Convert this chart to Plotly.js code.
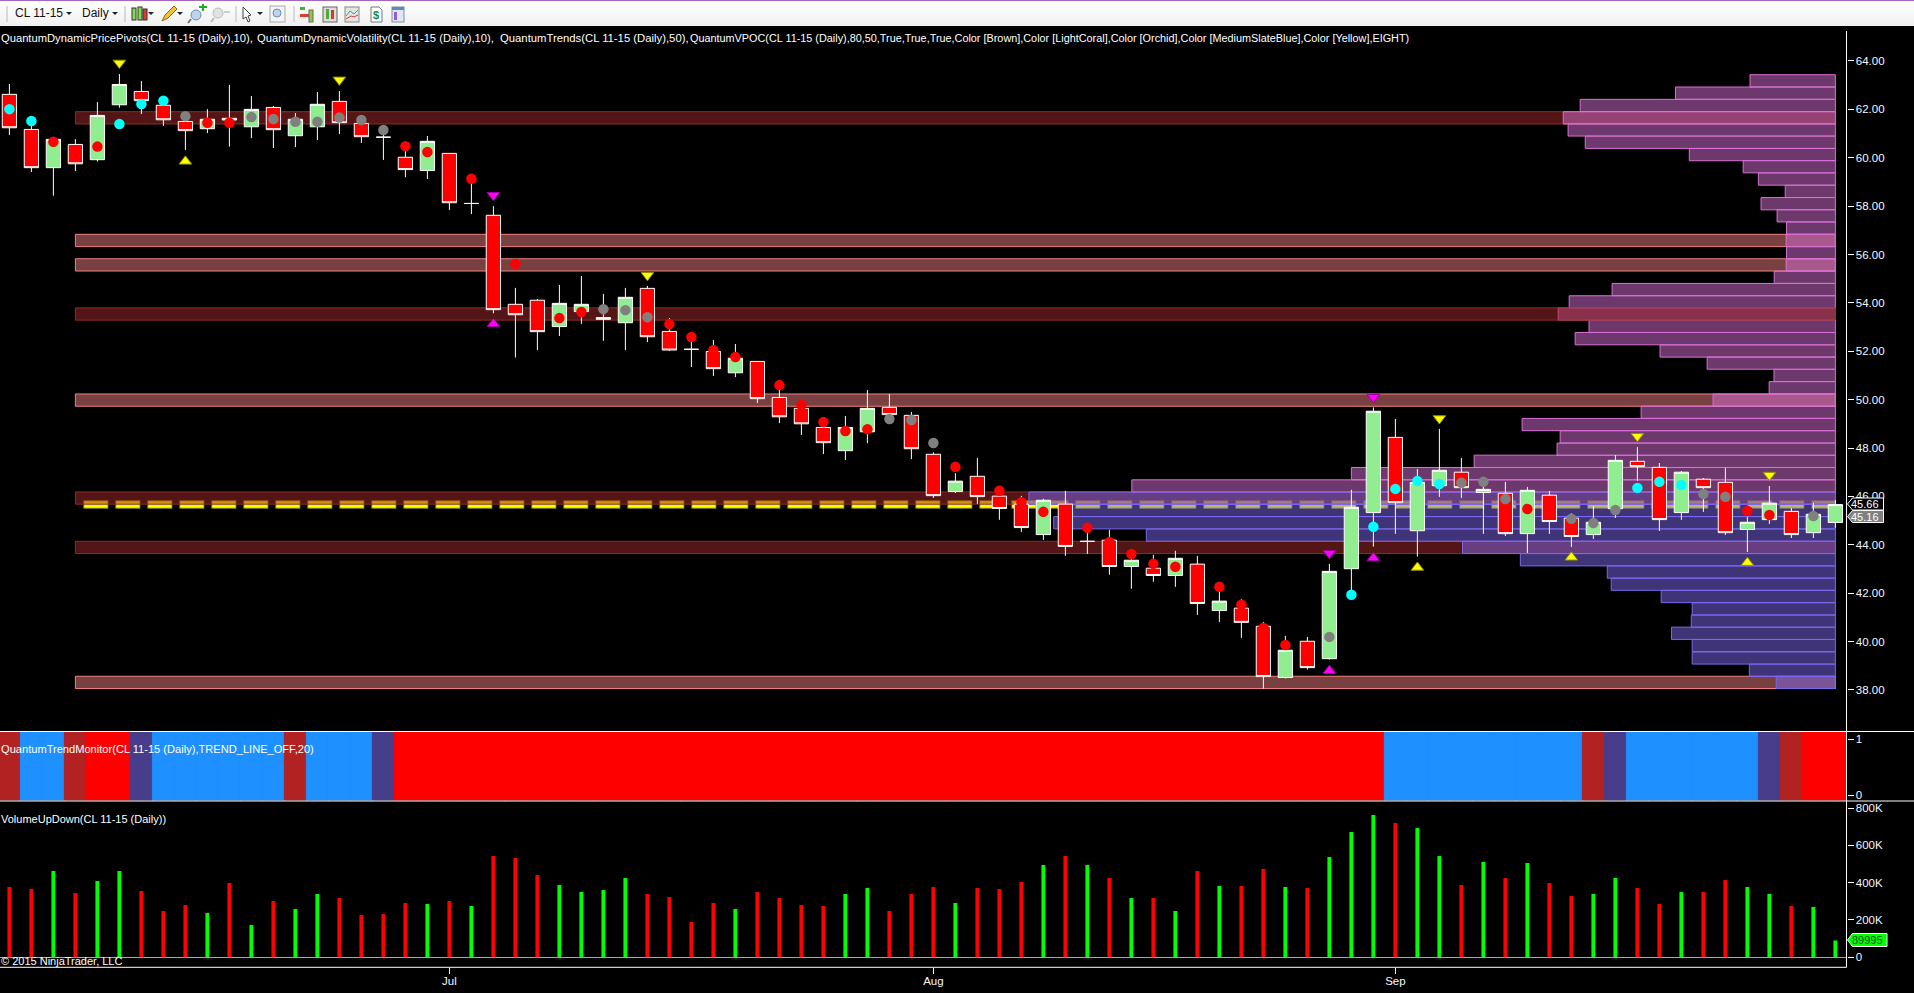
<!DOCTYPE html>
<html><head><meta charset="utf-8">
<script src="https://cdn.plot.ly/plotly-3.0.1.min.js"></script>
<style>
html,body{margin:0;padding:0;background:#000;overflow:hidden;width:1914px;height:993px}
#chart{position:absolute;left:0;top:0;width:1914px;height:993px}
#bar{position:absolute;left:0;top:0;width:1914px;height:26px;background:linear-gradient(#ffffff,#f0f0f0);border-top:1px solid #a865c0;box-sizing:border-box;font:12px "Liberation Sans",sans-serif;color:#111}
#bar span{position:absolute;top:5px}
#bar svg{position:absolute;left:0;top:0}
</style></head><body>
<div id="chart"></div>
<div id="bar">
<span style="left:15px">CL 11-15</span><span style="left:82px">Daily</span>
<svg width="420" height="26">
<g fill="#222"><path d="M66 11h6l-3 3z"/><path d="M112 11h6l-3 3z"/><path d="M148 11h6l-3 3z"/><path d="M177 11h6l-3 3z"/><path d="M257 11h6l-3 3z"/></g>
<g stroke="#bbb"><path d="M7 5v16M125 5v16M236 5v16M294 5v16"/></g>
<g stroke="#333"><rect x="132" y="7" width="4" height="12" fill="#7ee04a"/><rect x="138" y="6" width="4" height="13" fill="#7ee04a"/><rect x="143" y="8" width="4" height="11" fill="#e03a2a"/></g>
<path d="M162 20l3-6 9-9 3 3-9 9z" fill="#f2c230" stroke="#8a6a10"/>
<circle cx="196" cy="14" r="5" fill="#bcd4ee" stroke="#6f8fb0"/><path d="M191 18l-3 4" stroke="#777" stroke-width="2"/><path d="M201 4h3v-2h2v2h3v2h-3v3h-2v-3h-3z" transform="translate(-2,1)" fill="#22aa22"/>
<circle cx="218" cy="12" r="5" fill="#e2e2e2" stroke="#bbb"/><path d="M214 17l-3 4" stroke="#bbb" stroke-width="2"/><path d="M224 10h6v2h-6z" fill="#ccc"/>
<path d="M243 6l8 8-3 1 2 5-2 1-2-5-3 2z" fill="#fff" stroke="#444"/>
<rect x="270" y="5" width="15" height="16" fill="#f4f4f4" stroke="#aaa"/><circle cx="277" cy="12" r="4" fill="#bcd4ee" stroke="#6f8fb0"/>
<g><rect x="300" y="6" width="5" height="3" fill="#3faf3f"/><rect x="300" y="13" width="9" height="3" fill="#e03a2a"/><rect x="309" y="9" width="4" height="12" fill="#8cc84b" stroke="#666"/></g>
<rect x="323" y="6" width="14" height="15" fill="#ddd" stroke="#666"/><rect x="326" y="8" width="3" height="10" fill="#4caf33"/><rect x="331" y="9" width="3" height="9" fill="#d6392a"/>
<rect x="345" y="6" width="14" height="15" fill="#e4e4e4" stroke="#888"/><path d="M346 15l4-5 4 3 4-4" stroke="#3caa55" fill="none"/><path d="M346 18l5-3 3 1 4-2" stroke="#d04040" fill="none"/>
<path d="M371 6h8l3 3v12h-11z" fill="#fff" stroke="#777"/><text x="373" y="18" font-size="11" font-weight="bold" fill="#1a8a3a">$</text>
<rect x="392" y="6" width="12" height="15" fill="#dfe8f2" stroke="#7a8fa6"/><rect x="392" y="6" width="12" height="3" fill="#5a8cc0"/><rect x="394" y="11" width="3" height="8" fill="#9a5bd0"/>
</svg></div>
<script>
// ---------- daily candles (USD per barrel) ----------
const barIndex = Array.from({length:84},(_, i)=>i);
const priceOpen  = [62.62,61.17,59.59,60.55,59.92,62.19,62.74,62.17,61.50,61.20,61.63,61.28,62.08,60.91,61.28,62.33,61.42,60.85,60.02,59.47,60.18,58.11,57.62,53.94,54.11,53.02,53.64,53.32,53.18,54.60,52.82,52.08,51.99,51.11,51.58,50.09,49.64,48.85,47.89,48.67,49.68,49.35,47.74,46.20,46.83,46.01,45.68,44.42,45.68,44.14,44.19,43.10,43.03,42.73,43.20,41.28,41.38,40.63,38.51,40.01,39.29,43.01,45.33,48.44,44.58,46.44,47.00,46.16,46.13,44.46,46.05,45.10,44.42,45.49,47.45,47.20,45.33,46.71,46.58,44.63,45.04,45.38,44.50,44.92];
const priceHigh  = [63.05,61.35,60.84,60.77,62.30,63.46,63.17,62.39,61.84,62.01,63.01,62.55,62.14,61.85,62.72,62.76,61.70,61.28,60.32,60.90,60.18,59.15,58.00,54.62,54.16,54.74,55.11,54.37,54.62,54.70,53.37,52.53,52.46,52.30,51.58,50.46,49.78,48.95,49.32,50.40,50.23,49.49,47.82,46.96,47.59,46.13,46.02,45.90,46.23,44.62,44.62,43.51,43.58,43.75,43.54,42.07,41.76,40.81,40.23,40.19,43.21,46.27,49.68,49.20,47.13,48.79,47.59,46.79,46.60,46.39,46.22,45.30,45.60,47.71,48.04,47.38,47.05,46.76,47.18,45.16,46.43,45.52,45.73,45.85];
const priceLow   = [60.94,59.41,58.43,59.45,59.84,62.07,61.81,61.31,60.32,61.02,60.46,60.81,60.40,60.44,60.73,60.98,60.61,59.91,59.20,59.12,57.84,57.67,53.57,51.74,52.05,52.63,53.13,52.43,52.05,52.38,52.01,51.35,50.98,50.93,49.86,49.03,48.54,47.75,47.50,48.20,49.29,47.54,45.94,46.14,45.69,45.03,44.53,44.20,43.54,43.62,42.76,42.18,42.47,42.26,41.10,40.81,40.15,38.04,38.47,38.84,39.25,42.13,43.92,44.45,43.51,45.98,45.94,44.45,44.36,43.66,44.45,43.91,44.24,45.11,46.64,44.57,45.03,45.36,44.41,43.70,44.86,44.28,44.28,44.70];
const priceClose = [61.24,59.59,60.76,59.75,61.75,63.03,62.36,61.57,61.12,61.59,61.56,62.00,61.16,61.59,62.21,61.45,60.87,60.85,59.51,60.68,58.14,58.11,53.72,53.51,52.81,53.98,53.94,53.39,54.23,52.60,52.05,52.08,51.28,51.71,50.04,49.29,49.00,48.22,48.85,49.64,49.38,47.97,46.03,46.63,45.99,45.50,44.71,45.84,43.93,44.14,43.10,43.36,42.73,43.44,41.57,41.67,40.79,38.55,39.64,38.92,42.90,45.55,49.52,45.74,46.58,47.08,46.36,46.29,44.46,46.25,44.96,44.34,44.93,47.49,47.23,45.04,47.00,46.36,44.50,44.93,45.72,44.42,45.26,45.66];

// ---------- volatility dots: price and kind (r red, c cyan, g gray, - none) per bar ----------
const dotPrice = [62.01,61.52,60.66,null,60.46,61.39,62.22,62.36,61.72,61.45,61.45,61.68,61.60,61.49,61.49,61.66,61.56,61.15,60.48,60.24,null,59.13,null,55.61,null,53.37,53.62,53.74,53.70,53.41,53.12,52.59,52.05,51.76,null,50.60,49.78,49.07,48.70,48.78,49.20,49.16,48.21,47.22,null,46.23,45.76,45.36,null,44.70,44.11,43.62,43.21,43.09,null,42.26,41.52,40.56,39.86,null,40.19,41.93,44.74,46.31,46.64,46.51,46.56,46.60,45.89,45.48,null,45.07,44.90,45.44,46.35,46.60,46.47,46.10,45.98,45.40,45.23,null,45.19,null];
const dotKind  = "ccr-rcccgr"+"rgggggggrr"+"-r-r-rrggg"+"rrrr-rrrrr"+"gggr-rrr-r"+"rrrr-rrrr-"+"gcccccgggr"+"-gggcccggr"+"r-g-";

// ---------- pivot triangles ----------
const yellowDownX = [5,15,29,65,74,80],  yellowDownY = [63.92,63.22,55.14,49.22,48.49,46.88];
const yellowUpX   = [8,64,71,79],        yellowUpY   = [59.85,43.06,43.48,43.26];
const magentaDownX= [22,60,62],          magentaDownY= [58.45,43.65,50.10];
const magentaUpX  = [22,60,62],          magentaUpY  = [53.13,38.79,43.45];

// ---------- volume profile: row centre price and depth (in bar widths from the right edge) ----------
const profilePrice = [63.18,62.67,62.16,61.65,61.15,60.64,60.13,59.63,59.12,58.61,58.10,57.60,57.09,56.58,56.07,55.57,55.06,54.55,54.04,53.54,53.03,52.52,52.01,51.51,51.00,50.49,49.98,49.48,48.97,48.46,47.95,47.45,46.94,46.43,45.93,45.42,44.91,44.40,43.89,43.38,42.87,42.37,41.86,41.35,40.84,40.34,39.83,39.32,38.81,38.31];
const profileDepth = [3.88,7.27,11.60,12.37,12.15,11.37,6.64,4.19,3.50,2.28,3.38,2.65,2.22,2.24,2.22,2.24,2.78,10.15,12.10,12.60,11.20,11.83,7.97,5.83,2.79,3.01,5.56,8.83,14.24,12.51,12.65,16.42,22.00,31.98,36.66,35.07,35.53,31.32,16.95,14.32,10.37,10.19,7.92,6.51,6.55,7.45,6.51,6.51,3.91,2.69];
const profileRowHeight = 0.507;
const profileUpperRows = 34;           // rows above this index are Orchid, the rest MediumSlateBlue
const profileRightIndex = 83;

// ---------- support / resistance zones ----------
const brownZones = [61.65,43.89,45.93];
const brownZoneOnTop = [53.54];
const coralZones = [56.58,55.57,49.98,38.31];
const zoneStartIndex = 3, zoneLength = 80;

// ---------- VPOC line ----------
const vpocPrice = 45.66, vpocStart = 3.36, vpocEnd = 83;

// ---------- trend monitor state per bar: F firebrick, B dodgerblue, R red, S slateblue ----------
const trendState = ("FBBFRRSBBBBBBFBBBS"+"RRRRRRRRRRRRRRRRRRRRRRRRRRRRRRRRRRRRRRRRRRRRR"+"BBBBBBBBB"+"FS"+"BBBBBB"+"SFRR").split("");

// ---------- volume ----------
const volume = [377000,366000,463000,345000,409000,463000,355000,248000,280000,238000,398000,173000,302000,259000,339000,318000,227000,232000,291000,286000,302000,275000,543000,532000,441000,388000,350000,361000,425000,339000,323000,189000,291000,259000,350000,318000,280000,275000,339000,371000,248000,339000,377000,291000,371000,366000,404000,495000,543000,495000,425000,318000,318000,248000,463000,382000,382000,473000,377000,371000,538000,672000,763000,720000,693000,543000,388000,511000,425000,505000,398000,329000,339000,425000,371000,286000,350000,350000,414000,377000,339000,275000,270000,89995];
const volumeDir = "RRGRGGRRRGRGRGGRRRRGRGRRRGGGG"+"RRRRGRRRRGGRRRGRRRGRGRGRGRGRR"+"GRGGGRGGRGRGRRGGRRGRRGGRGG";

// ---------- tick labels ----------
const priceTicks = [38,40,42,44,46,48,50,52,54,56,58,60,62,64];
const priceTickText = ["38.00","40.00","42.00","44.00","46.00","48.00","50.00","52.00","54.00","56.00","58.00","60.00","62.00","64.00"];
const trendTicks = [0,1];
const volumeTicks = [0,200000,400000,600000,800000];
const volumeTickText = ["0","200K","400K","600K","800K"];
const monthTicks = [20,42,63];
const monthText = ["Jul","Aug","Sep"];

// ---------- texts ----------
const legendPivots = "QuantumDynamicPricePivots(CL 11-15 (Daily),10),";
const legendVolatility = "QuantumDynamicVolatility(CL 11-15 (Daily),10),";
const legendTrends = "QuantumTrends(CL 11-15 (Daily),50),";
const legendVpoc = "QuantumVPOC(CL 11-15 (Daily),80,50,True,True,True,Color [Brown],Color [LightCoral],Color [Orchid],Color [MediumSlateBlue],Color [Yellow],EIGHT)";
const legendTrend = "QuantumTrendMonitor(CL 11-15 (Daily),TREND_LINE_OFF,20)";
const legendVolume = "VolumeUpDown(CL 11-15 (Daily))";
const copyright = "© 2015 NinjaTrader, LLC";

// ---------- page geometry ----------
const W = 1914, H = 993;
const px = v => v / W, py = v => 1 - v / H;
const FONT = '"Liberation Sans", Arial, sans-serif';
const tickColor = "#f2f8ff";

const trendColor = {F:"#b22222",B:"#1e90ff",R:"#ff0000",S:"#483d8b"};
const pick = k => { const x=[],y=[]; dotPrice.forEach((p,i)=>{ if(dotKind[i]===k){x.push(i);y.push(p);} }); return {x,y}; };
const dot = (k,c) => { const d=pick(k); return {type:"scatter",mode:"markers",xaxis:"x",yaxis:"y2",x:d.x,y:d.y,marker:{symbol:"circle",size:10.5,color:c,line:{width:0}},hoverinfo:"skip"}; };
const tri = (x,y,sym,c,lc) => ({type:"scatter",mode:"markers",xaxis:"x",yaxis:"y2",x,y,marker:{symbol:sym,size:11,color:c,line:{width:1,color:lc}},hoverinfo:"skip"});
const zone = (rows,fill,line) => ({type:"bar",orientation:"h",xaxis:"x",yaxis:"y2",y:rows,x:rows.map(()=>zoneLength),base:rows.map(()=>zoneStartIndex),width:profileRowHeight,marker:{color:fill,line:{color:line,width:1}},hoverinfo:"skip"});

const upperP = profilePrice.slice(0,profileUpperRows), upperD = profileDepth.slice(0,profileUpperRows);
const lowerP = profilePrice.slice(profileUpperRows), lowerD = profileDepth.slice(profileUpperRows);
const prof = (p,d,fill,line) => ({type:"bar",orientation:"h",xaxis:"x",yaxis:"y2",y:p,x:d,base:d.map(v=>profileRightIndex-v),width:profileRowHeight,marker:{color:fill,line:{color:line,width:1}},hoverinfo:"skip"});
const trendFill = trendState.map(s=>trendColor[s]);

const traces = [
  // VPOC sits underneath the translucent zones
  {type:"scatter",mode:"lines",xaxis:"x",yaxis:"y",x:[vpocStart,vpocEnd],y:[vpocPrice,vpocPrice],line:{color:"#8f8f00",width:8.5,dash:"25px,7px"},hoverinfo:"skip"},
  {type:"scatter",mode:"lines",xaxis:"x",yaxis:"y",x:[vpocStart+0.04,vpocEnd],y:[vpocPrice,vpocPrice],line:{color:"#ffff00",width:6.5,dash:"23.3px,8.7px"},hoverinfo:"skip"},
  zone(brownZones,"rgba(165,42,42,0.5)","#902a2a"),
  zone(coralZones,"rgba(240,128,128,0.5)","#f08080"),
  prof(upperP,upperD,"rgba(218,112,214,0.5)","#da70d6"),
  prof(lowerP,lowerD,"rgba(123,104,238,0.5)","#7b68ee"),
  zone(brownZoneOnTop,"rgba(165,42,42,0.5)","#902a2a"),
  {type:"candlestick",xaxis:"x",yaxis:"y2",x:barIndex,open:priceOpen,high:priceHigh,low:priceLow,close:priceClose,whiskerwidth:0,
   increasing:{line:{color:"#ffffff",width:1},fillcolor:"#90ee90"},decreasing:{line:{color:"#ffffff",width:1},fillcolor:"#ff0000"},hoverinfo:"skip"},
  dot("r","#ff0000"),dot("c","#00ffff"),dot("g","#808080"),
  tri(yellowDownX,yellowDownY,"triangle-down","#ffff00","#8f8f00"),
  tri(yellowUpX,yellowUpY,"triangle-up","#ffff00","#8f8f00"),
  tri(magentaDownX,magentaDownY,"triangle-down","#ff00ff","#a000a0"),
  tri(magentaUpX,magentaUpY,"triangle-up","#ff00ff","#a000a0"),
  {type:"bar",xaxis:"x",yaxis:"y3",x:barIndex,y:barIndex.map(()=>1.5),base:barIndex.map(()=>-0.25),width:1,marker:{color:trendFill,line:{width:1,color:trendFill}},hoverinfo:"skip"},
  {type:"bar",xaxis:"x",yaxis:"y4",x:barIndex,y:volume,width:0.18,marker:{color:volumeDir.split("").map(c=>c==="G"?"#00ff00":"#ff0000"),line:{width:0}},hoverinfo:"skip"}
];

const rightAxis = (extra) => Object.assign({side:"right",anchor:"x",showgrid:false,zeroline:false,showline:false,ticks:"outside",ticklen:6,tickwidth:1,tickcolor:"#ffffff",tickfont:{family:FONT,size:11.5,color:tickColor},tickmode:"array",automargin:false,fixedrange:true},extra);

const label = (x,y,text,color,anchor,size) => ({xref:"paper",yref:"paper",x:px(x),y:py(y),text,showarrow:false,xanchor:anchor||"left",yanchor:"middle",font:{family:FONT,size:size||11,color:color||"#ffffff"},align:"left"});
const pentagon = (x0,x1,y0,y1,fill,line) => ({type:"path",xref:"paper",yref:"paper",path:`M${px(x0)},${py((y0+y1)/2)} L${px(x0+5)},${py(y0)} L${px(x1)},${py(y0)} L${px(x1)},${py(y1)} L${px(x0+5)},${py(y1)} Z`,fillcolor:fill,line:{color:line,width:1}});
const hline = (y,x0,x1) => ({type:"line",xref:"paper",yref:"paper",x0:px(x0),x1:px(x1),y0:py(y),y1:py(y),line:{color:"#ffffff",width:1}});

const layout = {
  width:W,height:H,margin:{l:0,r:0,t:0,b:0,pad:0},paper_bgcolor:"#000",plot_bgcolor:"#000",showlegend:false,barmode:"overlay",boxgap:0.35,boxgroupgap:0,
  xaxis:{domain:[0,px(1846.5)],range:[-0.4273,83.505],anchor:"y4",showgrid:false,zeroline:false,showline:false,ticks:"outside",ticklen:6,tickcolor:"#ffffff",tickmode:"array",tickvals:monthTicks,ticktext:monthText,ticklabelstandoff:-3,tickfont:{family:FONT,size:11.5,color:tickColor},rangeslider:{visible:false},fixedrange:true},
  yaxis:rightAxis({domain:[py(731),py(31)],range:[36.30,65.24],tickvals:priceTicks,ticktext:priceTickText}),
  yaxis2:{overlaying:"y",side:"right",anchor:"x",domain:[py(731),py(31)],range:[36.30,65.24],visible:false,fixedrange:true},
  yaxis3:rightAxis({domain:[py(800.5),py(731.5)],range:[-0.098,1.134],tickvals:trendTicks,ticktext:["0","1"]}),
  yaxis4:rightAxis({domain:[py(967),py(801.5)],range:[-51980,834900],tickvals:volumeTicks,ticktext:volumeTickText,zeroline:true,zerolinecolor:"#a8a8a8",zerolinewidth:1}),
  shapes:[
    hline(731.5,0,W),hline(801,0,W),hline(967.3,0,1846.5),
    {type:"line",xref:"paper",yref:"paper",x0:px(1846.5),x1:px(1846.5),y0:py(31),y1:py(967.3),line:{color:"#ffffff",width:1}},
    pentagon(1847.5,1883.5,498,510,"#000000","#ffffff"),
    pentagon(1847.5,1883.5,510.5,522.5,"#808080","#ffffff"),
    pentagon(1847.5,1887,933.5,946.5,"#00ff00","#ffffff")
  ],
  annotations:[
    label(-1,38,legendPivots,"#ffffff","left",11.2),
    label(255,38,legendVolatility,"#ffffff","left",11.2),
    label(498,38,legendTrends,"#ffffff","left",11.3),
    label(688,38,legendVpoc,"#ffffff","left",10.85),
    label(-1,749,legendTrend,"#ffffff","left",11.1),
    label(-1,819,legendVolume),
    label(-1,961,copyright),
    label(1881,504,"45.66","#ffffff","right"),
    label(1881,516.5,"45.16","#ffffff","right"),
    label(1885,940,"89995","#005000","right")
  ]
};
Plotly.newPlot("chart",traces,layout,{staticPlot:true,displayModeBar:false});
</script>
</body></html>
